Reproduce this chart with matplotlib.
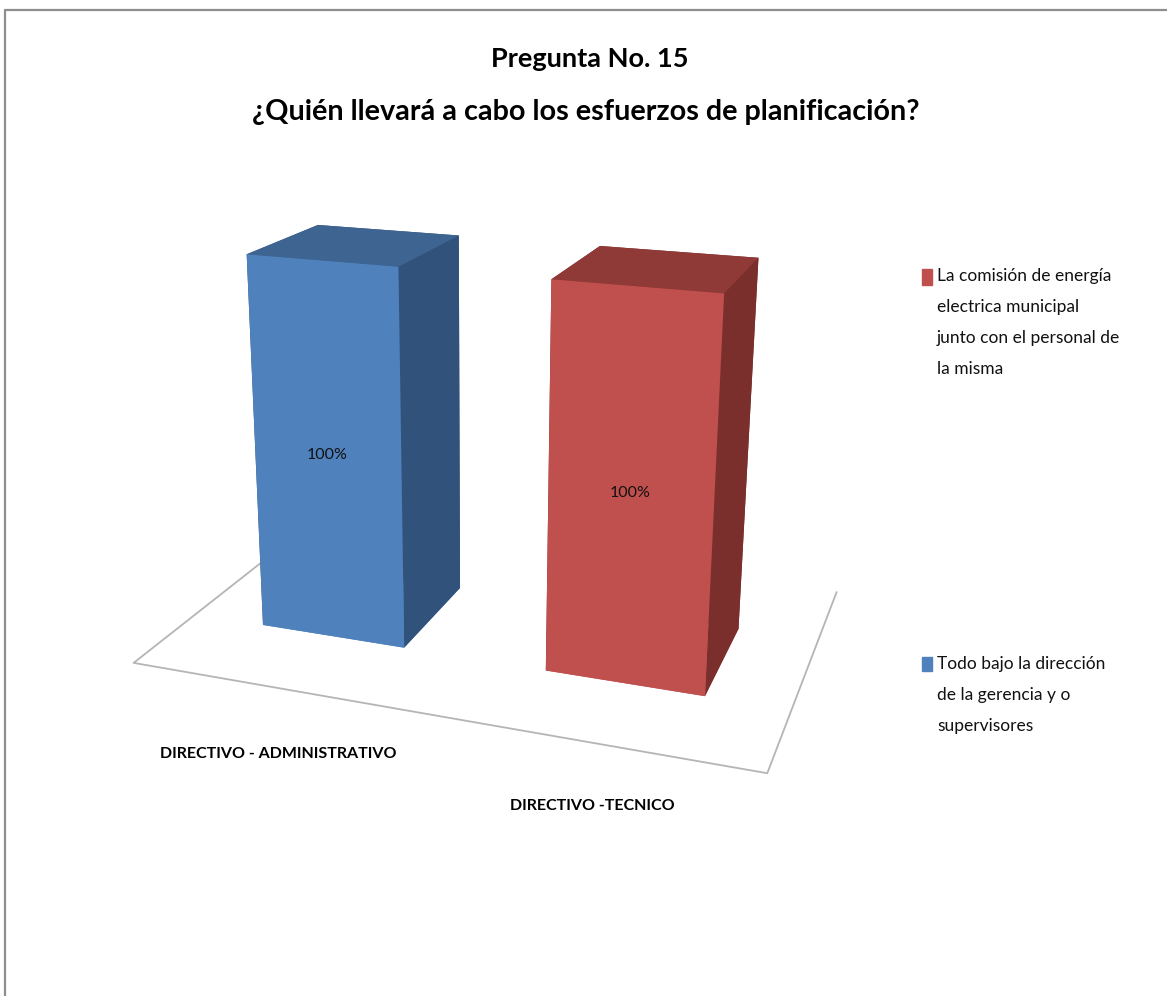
import matplotlib
matplotlib.use("Agg")
import matplotlib.pyplot as plt
from matplotlib.lines import Line2D
from matplotlib.patches import Rectangle

categories = ["DIRECTIVO - ADMINISTRATIVO", "DIRECTIVO -TECNICO"]
values = [100, 100]
value_labels = ["100%", "100%"]
front_colors = ["#4F81BD", "#C0504D"]
top_colors = ["#3E6592", "#8F3A37"]
side_colors = ["#31527A", "#7A2F2D"]
legend_labels = [
    "La comisión de energía\nelectrica municipal\njunto con el personal de\nla misma",
    "Todo bajo la dirección\nde la gerencia y o\nsupervisores",
]
legend_colors = ["#C0504D", "#4F81BD"]
title_lines = ["Pregunta No. 15", "¿Quién llevará a cabo los esfuerzos de planificación?"]

plt.rcParams["font.family"] = ["Lato", "DejaVu Sans"]

W, H = 1167, 996
fig = plt.figure(figsize=(W / 100, H / 100), dpi=100, facecolor="white")


def fx(x):
    return x / W


def fy(y):
    return 1 - y / H


# camera and box
ax = fig.add_axes([131.3 / W, (H - 793.9) / H, 726 / W, 726 / H], projection="3d")
ax.set_proj_type("persp", focal_length=0.414)
ax.view_init(elev=17.788, azim=-70.82, roll=-0.305)
ax.set_box_aspect((1.406, 0.918, 1.0), zoom=1.171)
ax.computed_zorder = False
ax.patch.set_alpha(0)

xl, xh = -0.513, 1.523
bar_w, bar_y, bar_d = 0.514, 0.298, 0.387
ax.set_xlim(xl, xh)
ax.set_ylim(0, 1)
ax.set_zlim(0, 114.163)
ax.set_xticks([])
ax.set_yticks([])
ax.set_zticks([])
ax.set_axis_off()

# floor outline, the back edge is not drawn
ax.plot([xl, xl, xh, xh], [1, 0, 0, 1], [0, 0, 0, 0], color="#B5B5B5", lw=1.3, zorder=1)

for i, v in enumerate(values):
    # bottom, top, front, back, left, right
    faces = [front_colors[i], top_colors[i], front_colors[i],
             side_colors[i], side_colors[i], side_colors[i]]
    ax.bar3d(i - bar_w / 2, bar_y, 0, bar_w, bar_d, v, color=faces, shade=False, zorder=2 + i)
    ax.text(i, bar_y, v / 2, value_labels[i], ha="center", va="center", fontsize=11.5,
            color="#111111", zorder=5)

# frame lines along top and left
fig.add_artist(Line2D([fx(5), fx(5), 1], [0, fy(10), fy(10)], color="#8E8E8E", lw=1.6))

fig.text(fx(590), fy(59), title_lines[0], ha="center", va="center", fontsize=19.5, fontweight="bold")
fig.text(fx(586), fy(112), title_lines[1], ha="center", va="center", fontsize=20.7, fontweight="bold")

fig.text(fx(278), fy(754), categories[0], ha="center", va="center", fontsize=11.5, fontweight="bold")
fig.text(fx(592), fy(806), categories[1], ha="center", va="center", fontsize=11.5, fontweight="bold")

# legend entries
for label, color, sq_y, sq_h, txt_y in zip(legend_labels, legend_colors, [269, 657], [16, 14], [268, 656]):
    fig.add_artist(Rectangle((fx(922), fy(sq_y + sq_h)), 10 / W, sq_h / H, color=color,
                             transform=fig.transFigure))
    fig.text(fx(937), fy(txt_y), label, ha="left", va="top", fontsize=12.5, linespacing=2.15,
             color="#111111")

fig.savefig("out.png", dpi=100, facecolor="white")
